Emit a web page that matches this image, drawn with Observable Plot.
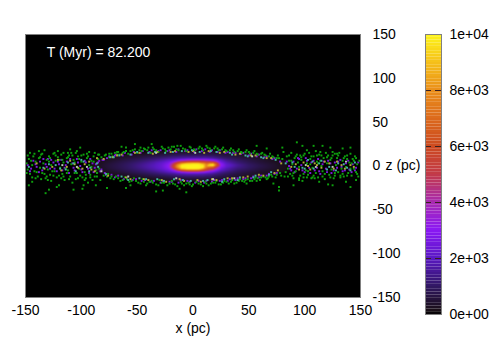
<!DOCTYPE html>
<html><head><meta charset="utf-8">
<script src="https://cdn.jsdelivr.net/npm/d3@7"></script>
<script src="https://cdn.jsdelivr.net/npm/@observablehq/plot@0.6"></script>
<style>
html,body{margin:0;padding:0;background:#fff}
#c{position:relative;width:500px;height:350px}
#c svg{position:absolute;left:0;top:0;background:transparent!important}
</style></head><body><div id="c"></div>
<script>
const xTicks=[-150,-100,-50,0,50,100,150];
const zTicks=[-150,-100,-50,0,50,100,150];
const barTicks=[0,2000,4000,6000,8000,10000];
const barLabels=["0e+00","2e+03","4e+03","6e+03","8e+03","1e+04"];
const colorStops=[0,150,1000,2000,3000,4000,5000,6000,7000,8000,9000,10000];
const colorRange=["#000000","#1a0f18","#311763","#5a18c4","#8a18f4","#a82ab0","#c23a48","#cc4a20","#dc6a1c","#ea8f1a","#f6c01a","#fdf51a"];
const densityX=[-95,-85,-75,-65,-55,-45,-35,-28,-22,-18,-14,-10,-5,0,5,9,12,15,18,21,25,30,40,50,60,70,80,90];
const densityZ=[18,15,12,9,7,5,3,1,-1,-3,-5,-7,-9,-12,-15,-18];
const densityRows=[
[0,0,0,0,0,0,0,0,0,0,0,0,0,0,0,0,0,0,0,0,0,0,0,0,0,0,0,0],
[0,0,0,0,0,100,250,300,400,400,500,500,500,500,500,500,500,500,500,400,400,300,250,100,0,0,0,0],
[0,0,0,150,300,450,600,700,800,900,900,1000,1000,1000,1000,1000,1000,900,900,800,700,600,400,250,150,0,0,0],
[0,0,150,350,550,750,1000,1200,1400,1500,1600,1700,1800,1800,1800,1800,1800,1700,1600,1400,1200,1000,700,450,300,150,0,0],
[0,100,300,500,750,1000,1300,1600,1900,2100,2500,2900,3300,3500,3500,3400,3200,3000,2800,2400,1900,1400,900,650,450,250,100,0],
[0,150,400,650,900,1200,1600,1900,2400,3000,4300,5100,5500,5700,5700,5500,5200,5000,4700,3900,2400,1700,1100,750,500,300,150,0],
[0,200,500,750,1050,1400,1800,2200,2800,4400,6400,8100,9100,9400,9300,8100,7000,7900,8100,6100,3000,2000,1300,900,600,400,200,0],
[0,250,550,800,1100,1500,1900,2300,3000,5000,7900,9800,10000,10000,10000,9600,7800,9600,9900,6600,3200,2200,1500,1000,700,450,200,0],
[0,250,550,800,1100,1500,1900,2300,3000,5200,8100,10000,10000,10000,10000,9900,7600,7600,7200,5000,2900,2100,1400,1000,700,450,200,0],
[0,200,500,750,1050,1400,1800,2200,2800,4400,6900,9400,10000,10000,9900,8600,6700,5500,5200,4000,2500,1800,1200,900,600,400,200,0],
[0,150,400,650,900,1200,1600,1900,2400,3000,4600,6000,7000,7200,7000,5700,4800,4100,3600,2800,2000,1600,1000,750,500,300,150,0],
[0,100,300,500,750,1000,1300,1600,1900,2200,2600,3200,3600,3700,3600,3200,2800,2500,2200,1900,1500,1200,800,550,350,250,100,0],
[0,0,150,350,550,750,1000,1200,1400,1500,1700,1800,1900,1900,1900,1800,1700,1600,1500,1300,1100,900,600,450,300,150,0,0],
[0,0,0,150,300,450,600,700,800,900,1000,1000,1100,1100,1100,1100,1000,1000,900,800,700,600,400,250,150,0,0,0],
[0,0,0,0,0,100,250,300,400,500,500,500,500,500,500,500,500,500,500,400,400,300,250,100,0,0,0,0],
[0,0,0,0,0,0,0,0,0,0,0,0,0,0,0,0,0,0,0,0,0,0,0,0,0,0,0,0]];
const frameCorners=[[-150,150,0],[150,150,0],[-150,-150,0],[150,-150,0]];
const greenStars=[
[-146,15],[-138,17],[-133,18],[-121,17],[-112,15],[-101,21],[-105,15],[-93,16],[-84,13],[-64,22],[-60,21],[-52,25],[-37,25],[-47,21],[-40,21],[-22,21],[-14,23],[-75,14],[-68,16],
[-144,-18],[-147,-22],[-132,-31],[-129,-27],[-122,-24],[-120,-22],[-107,-27],[-99,-26],[-98,-22],[-87,-22],[-77,-25],[-60,-25],[-56,-22],[-42,-22],[-33,-29],[-27,-28],[-12,-26],[-6,-30],
[93,27],[98,23],[108,23],[116,23],[123,21],[134,20],[141,21],[57,23],[80,21],[66,20],[81,16],[102,18],[114,16],[127,14],[138,12],[77,-28],[77,-24],[72,-20],[90,-22],[95,-16],[113,-18],[121,-21],[125,-22],[137,-18],[141,-24],[146,-16],[107,-13],[99,-13],[66,-15],[57,-17],[48,-20],[132,-11],
[-149,3],[-148,-4],[-147,8],[-146,-9],[-144,1],[-143,11],[-142,-6],[-141,5],[-139,-12],[-138,9],[-137,-2],[-136,13],[-135,-8],[-134,3],[-132,-14],[-131,7],[-130,-4],[-129,11],[-128,-10],[-127,1],[-125,14],[-124,-6],[-123,6],[-122,-13],[-121,10],[-119,-2],[-118,13],[-117,-9],[-116,4],[-115,-16],[-113,9],[-112,-5],[-111,12],[-110,-12],[-109,2],[-107,7],[-106,-8],[-105,-15],[-103,11],[-102,-3],[-101,-11],[-100,5],[-98,13],[-97,-7],[-96,-14],[-95,9],[-93,1],[-92,-10],[-91,6],[-90,-16],[-89,11],[-87,-5],[-86,-12],[-85,8],
[-127,-17],[-116,15],[-108,-19],[-104,17],[-94,-19],[-88,15],[-83,-16],[-110,19],[-136,-15],[-142,14],
[-149,-8],[-145,6],[-141,-14],[-137,10],[-133,-9],[-129,5],[-126,-6],[-123,12],[-120,-11],[-117,7],[-114,-3],[-111,-15],[-108,12],[-104,-8],[-100,12],[-97,-16],[-94,11],[-91,-1],[-88,-12],[-85,13],
[-148,12],[-144,-13],[-140,-7],[-135,14],[-131,-12],[-128,9],[-124,15],[-120,7],[-116,-12],[-113,-8],[-109,15],[-106,4],[-102,8],[-99,-13],[-95,14],[-92,-13],[-89,5],[-86,-8],[-84,-3],[-130,-16],[-125,-11],[-118,-14],[-112,10],[-103,-14],[-96,-10],
[-82,10],[-80,-11],[-78,13],[-76,-9],[-74,-14],[-72,11],[-70,15],[-69,-12],[-66,13],[-65,-17],[-62,16],[-61,-13],[-58,14],[-57,-18],[-54,18],[-53,-14],[-50,15],[-49,-19],[-46,17],[-45,-15],[-43,19],[-41,-20],[-38,15],[-37,-17],[-35,19],[-33,-21],[-31,16],[-30,-16],[-27,20],[-26,-19],[-24,17],[-23,-22],[-20,19],[-19,-17],[-17,22],[-16,-21],[-13,18],[-11,-18],[-9,20],[-8,-22],[-6,17],[-4,-19],[-2,21],[-1,-23],[2,18],[3,-18],[6,22],[7,-21],[9,18],[11,-18],[13,21],[14,-22],[16,18],[18,-19],[20,22],[21,-17],[23,18],[25,-21],[27,21],[28,-17],[30,17],[32,-20],[34,20],[35,-16],[37,16],[39,-19],[41,19],[42,-15],[44,15],[46,-18],[48,18],[49,-15],[51,14],[53,-17],[55,17],[56,-13],[58,13],[60,-16],[62,15],[63,-12],[65,12],[67,-14],[69,14],[70,-10],[72,10],[74,-13],[76,12],[78,-8],[80,8],[82,-12],
[-79,12],[-73,14],[-67,16],[-60,17],[-52,19],[-44,20],[-36,21],[-28,22],[-19,22],[-11,23],[-3,22],[5,20],[12,23],[19,20],[26,19],[33,18],[40,17],[47,16],[54,15],[61,14],[68,11],[75,9],
[-77,-12],[-71,-15],[-63,-16],[-55,-17],[-47,-20],[-39,-18],[-31,-22],[-21,-20],[-14,-23],[-6,-20],[0,-21],[9,-23],[16,-20],[23,-21],[30,-18],[37,-20],[44,-17],[51,-17],[58,-14],[65,-13],[71,-12],[79,-11],
[-75,10],[-68,13],[-63,15],[-56,17],[-48,18],[-41,18],[-33,18],[-25,19],[-15,19],[-7,19],[1,19],[8,20],[15,20],[22,20],[29,18],[36,18],[43,16],[50,16],[57,14],[64,13],[71,11],[77,9],
[-73,-12],[-67,-14],[-59,-15],[-51,-17],[-44,-18],[-36,-19],[-28,-19],[-18,-20],[-10,-20],[-3,-21],[5,-20],[12,-20],[20,-19],[27,-19],[34,-18],[41,-17],[47,-16],[55,-15],[61,-13],[68,-12],[75,-10],
[84,11],[85,-3],[86,6],[87,-9],[88,15],[89,2],[90,-14],[91,9],[92,-6],[93,13],[95,-1],[96,-11],[97,7],[98,-17],[99,12],[101,-5],[102,3],[103,-10],[104,15],[105,8],[106,-14],[107,-2],[108,11],[110,-8],[111,5],[112,-13],[113,13],[115,0],[116,-6],[117,9],[118,-15],[119,15],[120,3],[122,-10],[123,7],[124,-4],[125,12],[126,-14],[128,1],[129,9],[130,-7],[131,15],[133,-3],[134,6],[135,-12],[136,11],[137,-1],[139,-8],[140,4],[141,14],[142,-11],[143,8],[144,-3],[145,11],[146,-7],[147,2],[148,-12],[149,6],
[85,-12],[88,6],[90,-8],[94,4],[96,12],[99,-9],[102,-13],[105,2],[108,-11],[111,12],[114,6],[116,-12],[120,10],[123,-13],[127,-8],[130,12],[134,-9],[138,8],[142,3],[146,9],
[83,-7],[86,12],[89,-11],[92,11],[95,-14],[97,10],[100,14],[103,-6],[106,11],[109,-14],[112,3],[115,12],[118,-9],[121,12],[124,9],[127,-11],[129,14],[132,-13],[135,9],[138,-11],[141,-3],[144,6],[147,-9],[125,16],[110,17]];
const purpleStars=[
[-148,1],[-145,-3],[-143,6],[-140,-1],[-137,5],[-135,-5],[-132,2],[-130,8],[-128,-3],[-125,4],[-122,-6],[-120,2],[-118,7],[-115,-2],[-113,5],[-111,-8],[-108,3],[-106,-5],[-104,8],[-101,0],[-99,-7],[-96,4],[-94,-3],[-92,8],[-89,-7],[-87,2],[-84,6],[-83,-6],[-81,7],[-79,-8],
[-146,-6],[-141,2],[-138,-7],[-134,8],[-131,-1],[-127,7],[-124,-3],[-121,5],[-117,-5],[-114,1],[-110,8],[-107,-2],[-103,4],[-100,-4],[-97,6],[-93,-8],[-90,3],[-88,-2],[-85,4],[-82,-4],
[-77,9],[-73,-10],[-70,12],[-67,-11],[-63,12],[-59,-14],[-55,13],[-51,-15],[-47,15],[-43,-16],[-39,16],[-35,-17],[-31,17],[-27,-17],[-23,17],[-19,-18],[-15,16],[-11,-16],[-7,17],[-3,-18],[1,16],[5,-17],[8,17],[12,-17],[15,16],[19,-16],[22,16],[26,-16],[29,15],[33,-15],[36,15],[40,-14],[43,14],[47,-14],[50,12],[54,-12],[57,11],[61,-11],[64,10],[68,-9],[71,8],[75,-8],[78,5],
[-80,7],[-75,11],[-69,13],[-61,15],[-53,16],[-45,17],[-37,18],[-29,18],[-21,18],[-13,19],[-5,18],[3,19],[11,19],[17,18],[24,18],[31,16],[38,15],[45,15],[52,14],[59,13],[66,11],[73,9],
[-78,-10],[-70,-13],[-62,-15],[-54,-16],[-46,-17],[-38,-18],[-29,-19],[-21,-18],[-13,-19],[-5,-17],[2,-19],[10,-19],[17,-18],[24,-17],[31,-17],[38,-16],[45,-15],[52,-14],[59,-13],[66,-11],[73,-9],
[86,0],[88,-5],[90,5],[93,-3],[95,8],[97,1],[100,-7],[102,6],[104,-2],[106,4],[109,-5],[112,8],[114,-9],[116,2],[119,-3],[121,6],[124,-8],[127,4],[129,-2],[132,7],[134,-6],[137,3],[140,-4],[143,2],[146,-2],[148,4],
[84,5],[87,-3],[91,-7],[94,9],[98,-5],[101,9],[105,-8],[108,6],[111,-2],[113,-6],[117,5],[120,-7],[123,3],[126,-5],[130,5],[133,-1],[136,-5],[139,6],[142,-7],[145,-5]];
const yellowStars=[
[-140,3],[-126,-1],[-118,-5],[-110,6],[-103,-2],[-97,2],[-91,-4],[-86,9],[-80,8],[-76,-11],[-68,12],[-60,-13],[-52,15],[-44,-15],[-36,14],[-28,-16],[-20,16],[-12,-15],[-4,16],[4,-16],[10,15],[17,-15],[24,15],[31,-14],[38,13],[45,-13],[52,12],[59,-10],[66,9],[73,-8],[79,3],[92,2],[99,4],[105,-4],[111,1],[118,5],[126,-3],[133,1],[141,1],
[-133,-3],[-121,7],[-113,-1],[-106,2],[-99,-3],[-93,5],[-88,-6],[-72,10],[-64,13],[-56,-15],[-48,15],[-40,-16],[-32,16],[-24,-18],[-16,17],[-8,-17],[0,17],[7,-18],[14,17],[21,-16],[28,16],[35,-14],[42,14],[49,-12],[56,12],[63,-11],[70,9],[76,-5],[88,-1],[95,-4],[103,0],[109,3],[115,-2],[122,3],[129,5],[136,-3],[144,-1]];
const tealStars=[
[-147,-1],[-134,-2],[-123,1],[-114,-4],[-107,3],[-100,7],[-93,-6],[-85,-1],[-78,-9],[-71,10],[-64,-12],[-56,13],[-48,-14],[-40,15],[-32,-15],[-25,15],[-17,-15],[-10,17],[-2,-17],[6,16],[13,-16],[21,16],[28,-15],[35,13],[42,-13],[49,11],[56,-11],[63,9],[70,-7],[83,3],[91,-1],[98,-2],[103,7],[108,-3],[115,6],[122,-1],[130,3],[138,-2],[145,4],
[-129,2],[-119,-3],[-112,4],[-105,-6],[-98,5],[-92,-2],[-86,3],[-74,10],[-66,12],[-58,-16],[-50,16],[-42,-15],[-34,16],[-26,-17],[-18,16],[-9,-16],[-1,18],[9,-17],[16,17],[26,-18],[33,15],[40,-16],[47,12],[54,-13],[61,10],[68,-10],[74,7],[89,4],[100,-3],[107,5],[113,3],[120,-4],[128,-5],[135,2],[141,-5]];
const whiteStars=[[-117,1],[-104,-1],[-95,-1],[-82,-6],[-58,-12],[-33,15],[-15,-14],[2,15],[18,-15],[37,-14],[53,11],[101,1],[110,-1],[125,-1],[137,5]];
const density=[...densityRows.flatMap((r,i)=>r.map((v,j)=>({x:densityX[j],z:densityZ[i],v}))),...frameCorners.map(([x,z,v])=>({x,z,v}))];
const star=(arr,fill)=>Plot.dot(arr,{x:d=>d[0],y:d=>d[1],symbol:"square",r:1.1,fill,stroke:"none"});
const font="'Liberation Sans',Arial,sans-serif";
const color={type:"linear",domain:colorStops,range:colorRange,interpolate:"rgb",clamp:true};
const main=Plot.plot({width:500,height:350,marginLeft:25,marginRight:140,marginTop:34,marginBottom:53,
 style:{fontFamily:font,fontSize:"14px",color:"#000",background:"transparent"},
 x:{domain:[-150,150],label:null},y:{domain:[-150,150],label:null},color,
 marks:[
  Plot.frame({fill:"#000"}),
  Plot.raster(density,{x:"x",y:"z",fill:"v",interpolate:"barycentric",pixelSize:1}),
  star(purpleStars,"#7a18d8"),star(greenStars,"#0ea00e"),star(yellowStars,"#b0a836"),star(tealStars,"#44b0a0"),star(whiteStars,"#b8ccb8"),
  Plot.frame({stroke:"#808080"}),
  Plot.axisX({ticks:xTicks,tickSize:0,tickPadding:8,label:"x (pc)",labelAnchor:"center",labelArrow:"none",labelOffset:35,tickFormat:d=>String(d)}),
  Plot.axisY({anchor:"right",ticks:zTicks,tickSize:0,tickPadding:12,label:null,tickFormat:d=>String(d)}),
  Plot.text(["z (pc)"],{frameAnchor:"right",dx:25,textAnchor:"start",fontSize:14,fill:"#000"}),
  Plot.text(["T (Myr) = 82.200"],{x:[-131],y:[130],textAnchor:"start",fontSize:14,fill:"#fff"})
 ]});
const barLevels=d3.range(0,10000,100);
const bar=Plot.plot({width:500,height:350,marginLeft:425,marginRight:59,marginTop:34,marginBottom:36,
 style:{fontFamily:font,fontSize:"14px",color:"#000",background:"transparent"},
 x:{domain:[0,1],axis:null},y:{domain:[0,10000],label:null},color,
 marks:[
  Plot.rect(barLevels,{x1:0,x2:1,y1:d=>d,y2:d=>d+100,fill:d=>d+50}),
  Plot.ruleY(barTicks.slice(1,-1),{stroke:"#3a2020",strokeDasharray:"6,4,6"}),
  Plot.frame({stroke:"#808080"}),
  Plot.axisY({anchor:"right",ticks:barTicks,tickSize:0,tickPadding:8,label:null,tickFormat:d=>barLabels[barTicks.indexOf(d)]})
 ]});
const c=document.getElementById("c");c.append(main,bar);
</script></body></html>
